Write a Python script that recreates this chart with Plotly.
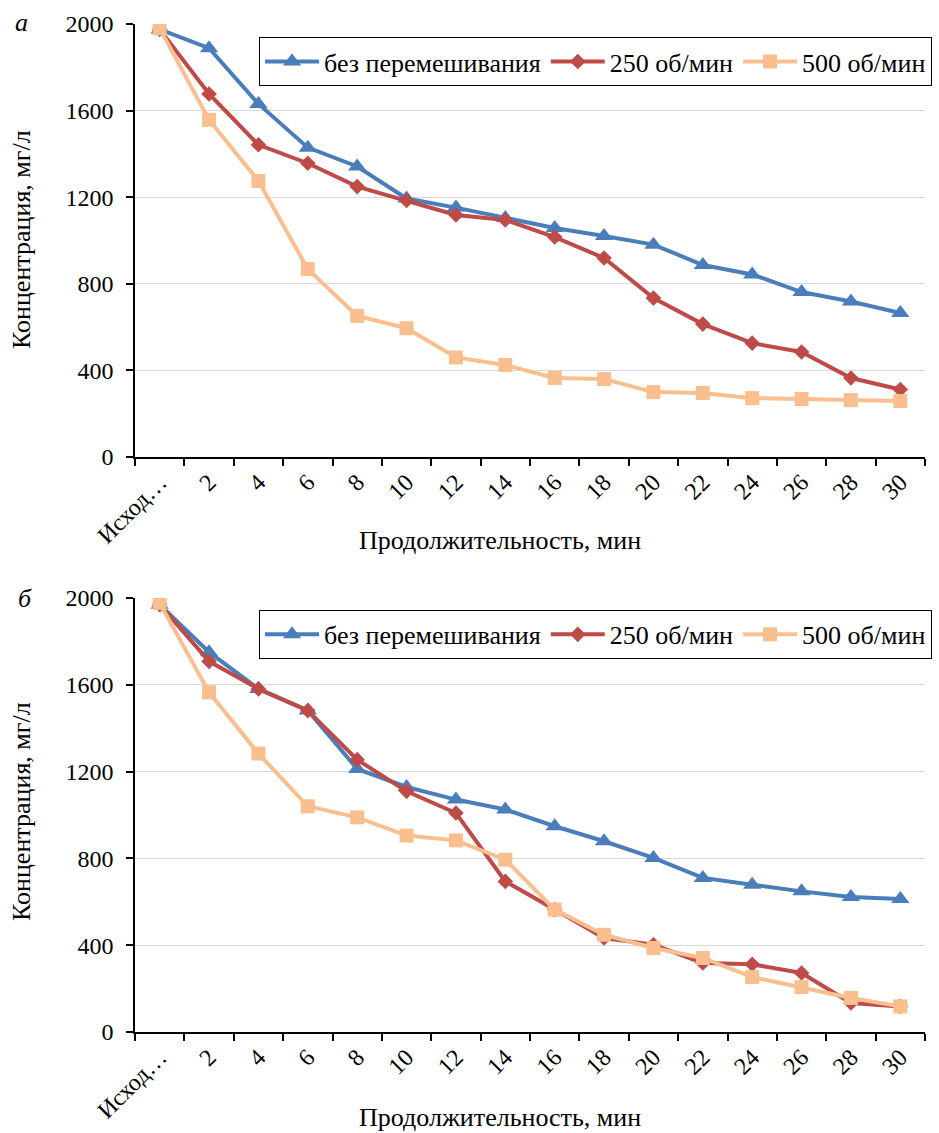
import plotly.graph_objects as go
from plotly.subplots import make_subplots

categories = ["Исход…", "2", "4", "6", "8", "10", "12", "14", "16", "18", "20", "22", "24", "26", "28", "30"]
series_names = ["без перемешивания", "250 об/мин", "500 об/мин"]

blue_a = [1975, 1888, 1631, 1429, 1342, 1194, 1152, 1104, 1058, 1021, 981, 887, 843, 762, 718, 665]
red_a = [1975, 1677, 1442, 1357, 1249, 1185, 1118, 1095, 1016, 919, 734, 614, 526, 485, 365, 312]
orange_a = [1980, 1557, 1275, 868, 652, 595, 460, 425, 365, 360, 300, 296, 272, 268, 263, 259]

blue_b = [1969, 1750, 1581, 1482, 1212, 1129, 1071, 1025, 948, 879, 802, 710, 679, 648, 622, 613]
red_b = [1969, 1708, 1581, 1481, 1255, 1109, 1009, 694, 564, 433, 402, 318, 312, 272, 134, 118]
orange_b = [1977, 1565, 1283, 1040, 989, 905, 883, 794, 564, 448, 387, 341, 253, 207, 157, 118]

y_ticks = [0, 400, 800, 1200, 1600, 2000]

FONT = "'Liberation Serif', 'Times New Roman', 'DejaVu Serif', serif"
colors = ["#4A7EBB", "#BE4B48", "#F9BF8F"]
symbols = ["triangle-up", "diamond", "square"]
msizes = [16, 12, 14]

fig = make_subplots(rows=2, cols=1, vertical_spacing=0.14)

for row, data, leg in [(1, [blue_a, red_a, orange_a], "legend"), (2, [blue_b, red_b, orange_b], "legend2")]:
    for i, ys in enumerate(data):
        fig.add_trace(go.Scatter(
            x=categories, y=ys, mode="lines+markers", name=series_names[i],
            line=dict(color=colors[i], width=4),
            marker=dict(symbol=symbols[i], size=msizes[i], color=colors[i]),
            legend=leg, showlegend=True,
        ), row=row, col=1)

axis_font = dict(family=FONT, size=24, color="black")
for r in (1, 2):
    fig.update_xaxes(type="category", range=[-0.5, 15.5], tickangle=-45, tickson="boundaries",
                     ticks="outside", ticklen=7, tickwidth=1.5, tickcolor="black",
                     showline=True, linecolor="black", linewidth=1.5, showgrid=False,
                     tickfont=axis_font, automargin=False, row=r, col=1)
    fig.update_yaxes(range=[0, 2000], tickvals=y_ticks, ticks="outside", ticklen=7, tickwidth=1.5,
                     tickcolor="black", showline=True, linecolor="black", linewidth=1.5,
                     showgrid=True, gridcolor="#D9D9D9", gridwidth=1, zeroline=False,
                     tickfont=axis_font, ticklabelstandoff=8, automargin=False, row=r, col=1)

leg_common = dict(orientation="h", xanchor="left", yanchor="top",
                  bordercolor="black", borderwidth=1, bgcolor="white",
                  font=dict(family=FONT, size=26, color="black"), itemwidth=54, tracegroupgap=0)

fig.update_layout(
    width=939, height=1133,
    margin=dict(l=135, r=14, t=24, b=101, autoexpand=False),
    paper_bgcolor="white", plot_bgcolor="white",
    font=dict(family=FONT, size=24, color="black"),
    yaxis=dict(domain=[0.5704, 1.0]),
    yaxis2=dict(domain=[0.0, 0.4306]),
    legend=dict(x=0.157, y=0.987, **leg_common),
    legend2=dict(x=0.157, y=0.4187, **leg_common),
)

# Axis titles and panel letters
ann = []
for yc in [(1032 - 240) / 1008, (1032 - 812) / 1008]:
    ann.append(dict(text="Концентрация, мг/л", xref="paper", yref="paper", x=(21 - 135) / 790, y=yc,
                    xanchor="center", yanchor="middle", textangle=-90, showarrow=False,
                    font=dict(family=FONT, size=26, color="black")))
for yc in [(1032 - 540) / 1008, (1032 - 1117) / 1008]:
    ann.append(dict(text="Продолжительность, мин", xref="paper", yref="paper", x=(500 - 135) / 790, y=yc,
                    xanchor="center", yanchor="middle", showarrow=False,
                    font=dict(family=FONT, size=26, color="black")))
for letter, xc, yc in [("а", 22, 22), ("б", 25, 598)]:
    ann.append(dict(text="<i>" + letter + "</i>", xref="paper", yref="paper", x=(xc - 135) / 790,
                    y=(1032 - yc) / 1008,
                    xanchor="center", yanchor="middle", showarrow=False,
                    font=dict(family=FONT, size=26, color="black")))
fig.update_layout(annotations=ann)

fig.write_html("out.html", config={"displayModeBar": False},
               post_script="document.body.style.margin='0';")
